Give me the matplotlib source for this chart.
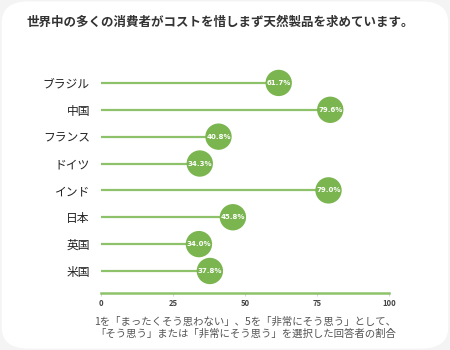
import matplotlib.pyplot as plt
from matplotlib.patches import FancyBboxPatch

plt.rcParams['font.family'] = ['Noto Sans CJK JP', 'DejaVu Sans']

countries = ['ブラジル', '中国', 'フランス', 'ドイツ', 'インド', '日本', '英国', '米国']
values = [61.7, 79.6, 40.8, 34.3, 79.0, 45.8, 34.0, 37.8]
ticks = [0, 25, 50, 75, 100]

title = '世界中の多くの消費者がコストを惜しまず天然製品を求めています。'
note = '1を「まったくそう思わない」、5を「非常にそう思う」として、\n「そう思う」または「非常にそう思う」を選択した回答者の割合'

green = '#7ab54f'
line_green = '#8dc26a'

fig = plt.figure(figsize=(4.5, 3.5), dpi=100)
fig.patch.set_facecolor('#f4f4f4')
card = FancyBboxPatch((0.004, 0.004), 0.992, 0.992, boxstyle='round,pad=0,rounding_size=0.06',
                      transform=fig.transFigure, facecolor='white', edgecolor='none', zorder=-5)
fig.patches.append(card)

ax = fig.add_axes([101 / 450, 1 - 293 / 350, 288 / 450, (293 - 69.5) / 350])
ax.set_facecolor('none')

# lollipops: stem from 0, dot with the value inside
ypos = list(range(len(countries)))
ax.hlines(ypos, 0, values, color=line_green, lw=1.6, zorder=1)
ax.scatter(values, ypos, s=360, color=green, edgecolor='none', zorder=2, clip_on=False)
for v, y in zip(values, ypos):
    ax.text(v, y, f'{v:.1f}%', ha='center', va='center', color='white',
            fontsize=5, fontweight='bold', family='DejaVu Sans Condensed', zorder=3)

ax.set_xlim(0, 100)
ax.set_ylim(7.82, -0.5)
ax.set_yticks(ypos)
ax.set_yticklabels(countries, fontsize=8.5, color='#222222')
ax.tick_params(axis='y', length=0, pad=8)
ax.set_xticks(ticks)
ax.set_xticklabels([str(t) for t in ticks], fontsize=5.5, fontweight='bold', color='#444444')
ax.tick_params(axis='x', length=2, width=0.6, color='#cccccc', pad=2)
for side in ['top', 'right', 'left']:
    ax.spines[side].set_visible(False)
ax.spines['bottom'].set_color(line_green)
ax.spines['bottom'].set_linewidth(1.8)

fig.text(0.49, 1 - 22 / 350, title, ha='center', va='center', fontsize=9,
         fontweight='bold', color='#333333')
fig.text(0.545, 1 - 328 / 350, note, ha='center', va='center', fontsize=7.5,
         color='#555555', linespacing=1.3, multialignment='center')

fig.savefig('out.png', dpi=100)
